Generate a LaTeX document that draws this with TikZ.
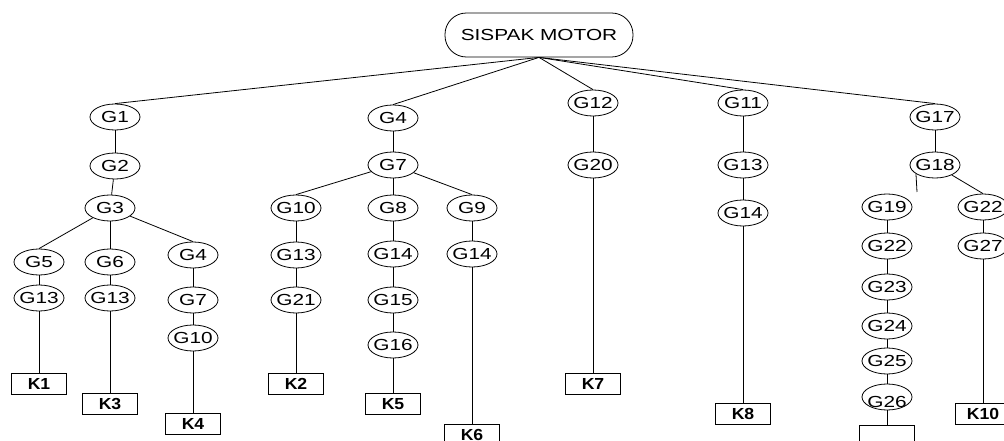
\documentclass[tikz,border=0pt]{standalone}
\usepackage{fontspec}
\setmainfont[FakeStretch=1.3]{Liberation Sans}
\newfontfamily\kfont[FakeStretch=1.1]{Liberation Sans}
\usetikzlibrary{shapes.geometric}
\tikzset{
	gnode/.style={ellipse, draw, minimum width=37.5pt, minimum height=19.5pt, inner xsep=-1.5pt, inner ysep=0pt, text height=8.5pt, text depth=0pt, font=\fontsize{12}{14}\selectfont},
	knode/.style={rectangle, draw, minimum width=41pt, minimum height=15.5pt, inner sep=0pt, text height=8.5pt, text depth=0pt, font=\kfont\bfseries\fontsize{12}{14}\selectfont},
	rootnode/.style={rectangle, draw, rounded corners=16pt, minimum width=141pt, minimum height=33pt, font=\fontsize{12}{14}\selectfont}
}

\begin{document}
\begin{tikzpicture}[x=0.75pt, y=-0.75pt, line width=0.6pt]
			%%%%% START %%%%%
			\useasboundingbox (0,0) rectangle (1004,441);
			\clip (0,0) rectangle (1004,441);
			
			\node[rootnode] (root) at (539,35) {SISPAK MOTOR};
			
			% left branch
			\node[gnode] (g1) at (115,117) {G1};
			\node[gnode] (g2) at (115,166) {G2};
			\node[gnode] (g3) at (110,208) {G3};
			\node[gnode] (g5) at (39,262) {G5};
			\node[gnode] (g13l) at (39,298) {G13};
			\node[gnode] (g6) at (110,262) {G6};
			\node[gnode] (g13m) at (110,298) {G13};
			\node[gnode] (g4l) at (193,255) {G4};
			\node[gnode] (g7l) at (193,300) {G7};
			\node[gnode] (g10l) at (193,338) {G10};
			\node[knode] (k1) at (39,384) {K1};
			\node[knode] (k3) at (110,404) {K3};
			\node[knode] (k4) at (193,424) {K4};
			
			% middle branch
			\node[gnode] (g4) at (393,118) {G4};
			\node[gnode] (g7) at (393,165) {G7};
			\node[gnode] (g10) at (296,208) {G10};
			\node[gnode] (g13) at (296,255) {G13};
			\node[gnode] (g21) at (296,300) {G21};
			\node[gnode] (g8) at (393,208) {G8};
			\node[gnode] (g14a) at (393,254) {G14};
			\node[gnode] (g15) at (393,300) {G15};
			\node[gnode] (g16) at (393,345) {G16};
			\node[gnode] (g9) at (472,208) {G9};
			\node[gnode] (g14b) at (472,254) {G14};
			\node[knode] (k2) at (296,384) {K2};
			\node[knode] (k5) at (393,404) {K5};
			\node[knode] (k6) at (472,435) {K6};
			
			% G12 and G11
			\node[gnode] (g12) at (593,103) {G12};
			\node[gnode] (g20) at (593,165) {G20};
			\node[knode] (k7) at (593,384) {K7};
			\node[gnode] (g11) at (743,103) {G11};
			\node[gnode] (g13r) at (743,165) {G13};
			\node[gnode] (g14r) at (743,213) {G14};
			\node[knode] (k8) at (743,414) {K8};
			
			% right branch
			\node[gnode] (g17) at (935,117) {G17};
			\node[gnode] (g18) at (935,165) {G18};
			\node[gnode] (g19) at (887,207) {G19};
			\node[gnode] (g22) at (887,246) {G22};
			\node[gnode] (g23) at (887,287) {G23};
			\node[gnode] (g24) at (887,326) {G24};
			\node[gnode] (g25) at (887,361) {G25};
			\node[gnode] (g26) at (887,397) {\raisebox{-3.5pt}{G26}};
			\node[knode] (k9) at (887,436) {};
			\node[gnode] (g22r) at (983,207) {G22};
			\node[gnode] (g27) at (983,246) {G27};
			\node[knode] (k10) at (983,414) {K10};
			\coordinate (stub) at (917,192);
			
			% lines
			\draw (root.south) -- (g1.north);
			\draw (root.south) -- (g4.north);
			\draw (root.south) -- (g12.north);
			\draw (root.south) -- (g11.north);
			\draw (root.south) -- (g17.north);
			
			\draw (g1) -- (g2);
			\draw (g2) -- (g3);
			\draw (g3) -- (g5.north);
			\draw (g3) -- (g6);
			\draw (g3) -- (g4l.north);
			\draw (g5) -- (g13l);
			\draw (g6) -- (g13m);
			\draw (g4l) -- (g7l);
			\draw (g7l) -- (g10l);
			\draw (g13l) -- (k1);
			\draw (g13m) -- (k3);
			\draw (g10l) -- (k4);
			
			\draw (g4) -- (g7);
			\draw (g7) -- (g10.north);
			\draw (g7) -- (g8);
			\draw (g7) -- (g9.north);
			\draw (g10) -- (g13);
			\draw (g13) -- (g21);
			\draw (g21) -- (k2);
			\draw (g8) -- (g14a);
			\draw (g14a) -- (g15);
			\draw (g15) -- (g16);
			\draw (g16) -- (k5);
			\draw (g9) -- (g14b);
			\draw (g14b) -- (k6);
			
			\draw (g12) -- (g20);
			\draw (g20) -- (k7);
			\draw (g11) -- (g13r);
			\draw (g13r) -- (g14r);
			\draw (g14r) -- (k8);
			
			\draw (g17) -- (g18);
			\draw (g18.205) -- (stub);
			\draw (g18) -- (g22r.north);
			\draw (g19) -- (g22);
			\draw (g22) -- (g23);
			\draw (g23) -- (g24);
			\draw (g24) -- (g25);
			\draw (g25) -- (g26);
			\draw (g26) -- (k9);
			\draw (g22r) -- (g27);
			\draw (g27) -- (k10);
			%%%%% END %%%%%
\end{tikzpicture}
\end{document}
